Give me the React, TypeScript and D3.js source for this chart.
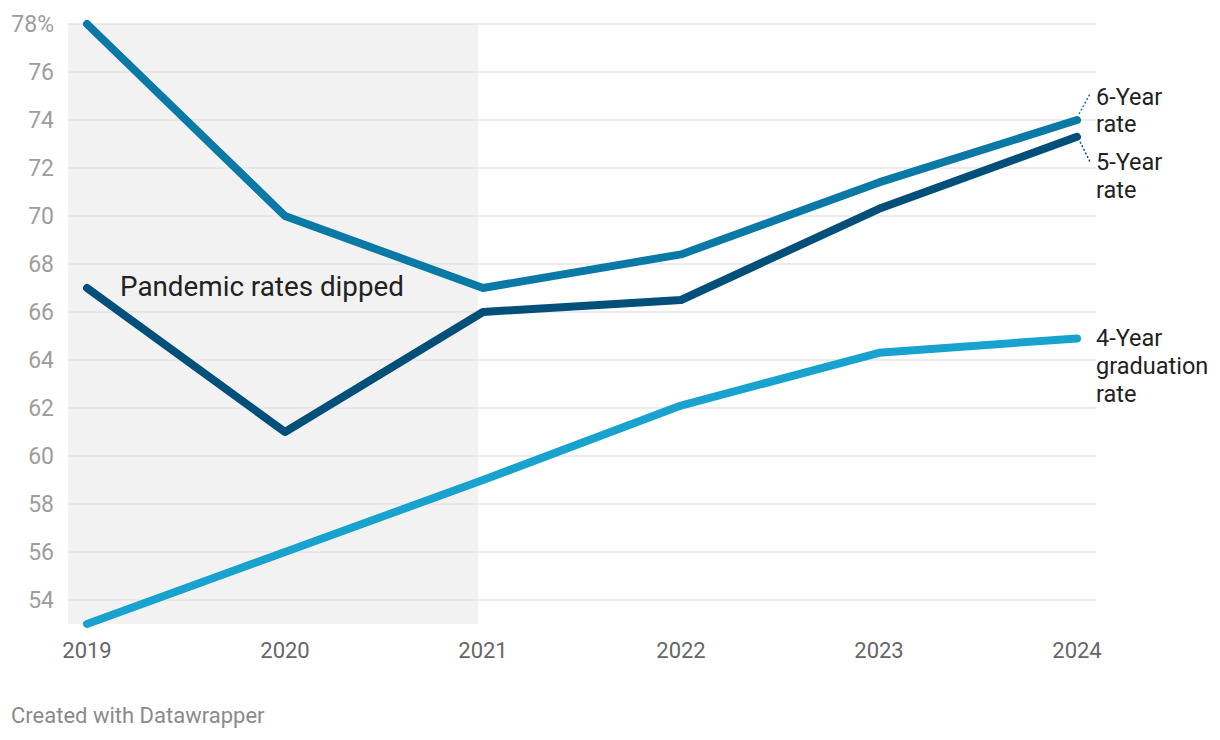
import * as d3 from 'd3';

const years = [2019, 2020, 2021, 2022, 2023, 2024];
const sixYear = [78, 70, 67, 68.4, 71.4, 74];
const fiveYear = [67, 61, 66, 66.5, 70.3, 73.3];
const fourYear = [53, 56, 59, 62.1, 64.3, 64.9];
const yTicks = [54, 56, 58, 60, 62, 64, 66, 68, 70, 72, 74, 76, 78];

const W = 1220;
const H = 740;
const font = 'Roboto, "Noto Sans", sans-serif';

const x = d3.scaleLinear().domain([2019, 2024]).range([87, 1077]);
const y = d3.scaleLinear().domain([54, 78]).range([600, 24]);

const line = d3
  .line<number>()
  .x((_, i) => x(years[i]))
  .y((d) => y(d));

const series = [
  { name: 'six', values: sixYear, color: '#0a79a5' },
  { name: 'five', values: fiveYear, color: '#02507a' },
  { name: 'four', values: fourYear, color: '#18a3cf' },
];

const App = () => {
  const gridLeft = 68;
  const gridRight = 1096;
  const last = years.length - 1;
  return (
    <svg
      width={W}
      height={H}
      style={{ position: 'absolute', left: 0, top: 0, background: '#fff' }}
      fontFamily={font}
    >
      {/* pandemic shading */}
      <rect
        x={gridLeft}
        y={y(78)}
        width={x(2021) - 5 - gridLeft}
        height={y(53) - y(78)}
        fill="#f2f2f2"
      />
      {yTicks.map((t) => (
        <g key={t}>
          <line x1={gridLeft} x2={gridRight} y1={y(t)} y2={y(t)} stroke="#e5e5e5" strokeWidth={1.5} />
          <text x={54} y={y(t)} dy="0.35em" textAnchor="end" fontSize={23} fill="#9d9d9d">
            {t === 78 ? '78%' : t}
          </text>
        </g>
      ))}
      {years.map((yr) => (
        <text key={yr} x={x(yr)} y={658} textAnchor="middle" fontSize={22} fill="#666">
          {yr}
        </text>
      ))}
      {series.map((s) => (
        <path
          key={s.name}
          d={line(s.values) || ''}
          fill="none"
          stroke={s.color}
          strokeWidth={8}
          strokeLinecap="round"
          strokeLinejoin="round"
        />
      ))}
      {/* label connectors */}
      <line
        x1={x(2024) + 2}
        y1={y(sixYear[last]) - 6}
        x2={x(2024) + 13}
        y2={y(sixYear[last]) - 26}
        stroke="#0a79a5"
        strokeWidth={1.5}
        strokeDasharray="2,2"
      />
      <line
        x1={x(2024) + 3}
        y1={y(fiveYear[last]) + 5}
        x2={x(2024) + 13}
        y2={y(fiveYear[last]) + 25}
        stroke="#02507a"
        strokeWidth={1.5}
        strokeDasharray="2,2"
      />
      <g fontSize={23.5} fill="#222">
        <text x={1096} y={105}>6-Year</text>
        <text x={1096} y={132}>rate</text>
        <text x={1096} y={170}>5-Year</text>
        <text x={1096} y={198}>rate</text>
        <text x={1096} y={346}>4-Year</text>
        <text x={1096} y={374}>graduation</text>
        <text x={1096} y={402}>rate</text>
      </g>
      <text x={120} y={296} fontSize={27.8} fill="#222">
        Pandemic rates dipped
      </text>
      <text x={11} y={723} fontSize={22} fill="#8a8a8a">
        Created with Datawrapper
      </text>
    </svg>
  );
};

export default App;
